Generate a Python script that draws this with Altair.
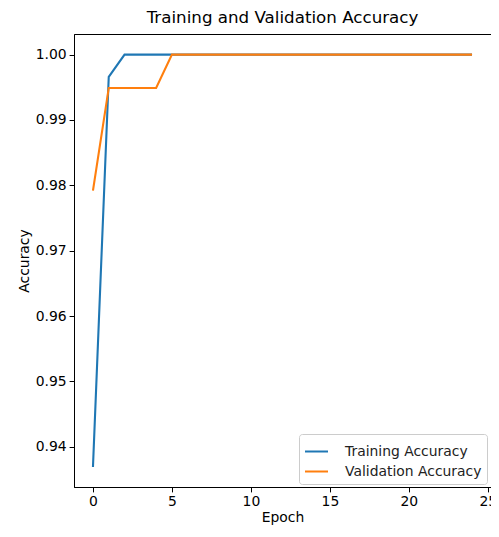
import altair as alt
import pandas as pd

epochs = list(range(25))
train_acc = [0.9369, 0.9966] + [1.0] * 23
val_acc = [0.9792, 0.9949, 0.9949, 0.9949, 0.9949] + [1.0] * 20
series_names = ["Training Accuracy", "Validation Accuracy"]
colors = ["#1f77b4", "#ff7f0e"]

df = pd.concat([
    pd.DataFrame({"Epoch": epochs, "Accuracy": train_acc, "Series": series_names[0]}),
    pd.DataFrame({"Epoch": epochs, "Accuracy": val_acc, "Series": series_names[1]}),
])

FONT = "DejaVu Sans"
PLOT_W, PLOT_H = 417, 453

chart = alt.Chart(df).mark_line(strokeWidth=2.1, clip=True).encode(
    x=alt.X("Epoch:Q", scale=alt.Scale(domain=[-1.2, 25.2], nice=False, zero=False),
            axis=alt.Axis(values=[0, 5, 10, 15, 20, 25], title="Epoch", format="d", titlePadding=2)),
    y=alt.Y("Accuracy:Q", scale=alt.Scale(domain=[0.93385, 1.00315], nice=False, zero=False),
            axis=alt.Axis(values=[0.94, 0.95, 0.96, 0.97, 0.98, 0.99, 1.00], format=".2f", title="Accuracy")),
    color=alt.Color("Series:N", scale=alt.Scale(domain=series_names, range=colors),
                    legend=alt.Legend(title=None, orient="none", legendX=PLOT_W - 192, legendY=PLOT_H - 53,
                                      symbolType="stroke", symbolSize=529, symbolStrokeWidth=2,
                                      labelFontSize=13.9, labelFont=FONT, labelColor="#222",
                                      rowPadding=0, padding=5, cornerRadius=3,
                                      strokeColor="#cccccc", fillColor="white",
                                      labelOffset=16)),
).properties(
    width=PLOT_W, height=PLOT_H,
    title=alt.TitleParams("Training and Validation Accuracy", font=FONT, fontSize=16.7,
                          fontWeight="normal", color="black", offset=7),
    autosize=alt.AutoSizeParams(type="none"),
    padding={"left": 66, "top": 26, "right": 0, "bottom": 40},
).configure_view(
    stroke="black", strokeWidth=1
).configure_axis(
    grid=False, domainColor="black", domainWidth=1, tickColor="black", tickSize=4.9,
    labelFont=FONT, labelFontSize=13.9, labelColor="black", labelPadding=3,
    titleFont=FONT, titleFontSize=13.9, titleFontWeight="normal", titleColor="black",
)

chart.save("out.html", embed_options={"renderer": "svg", "actions": False})
